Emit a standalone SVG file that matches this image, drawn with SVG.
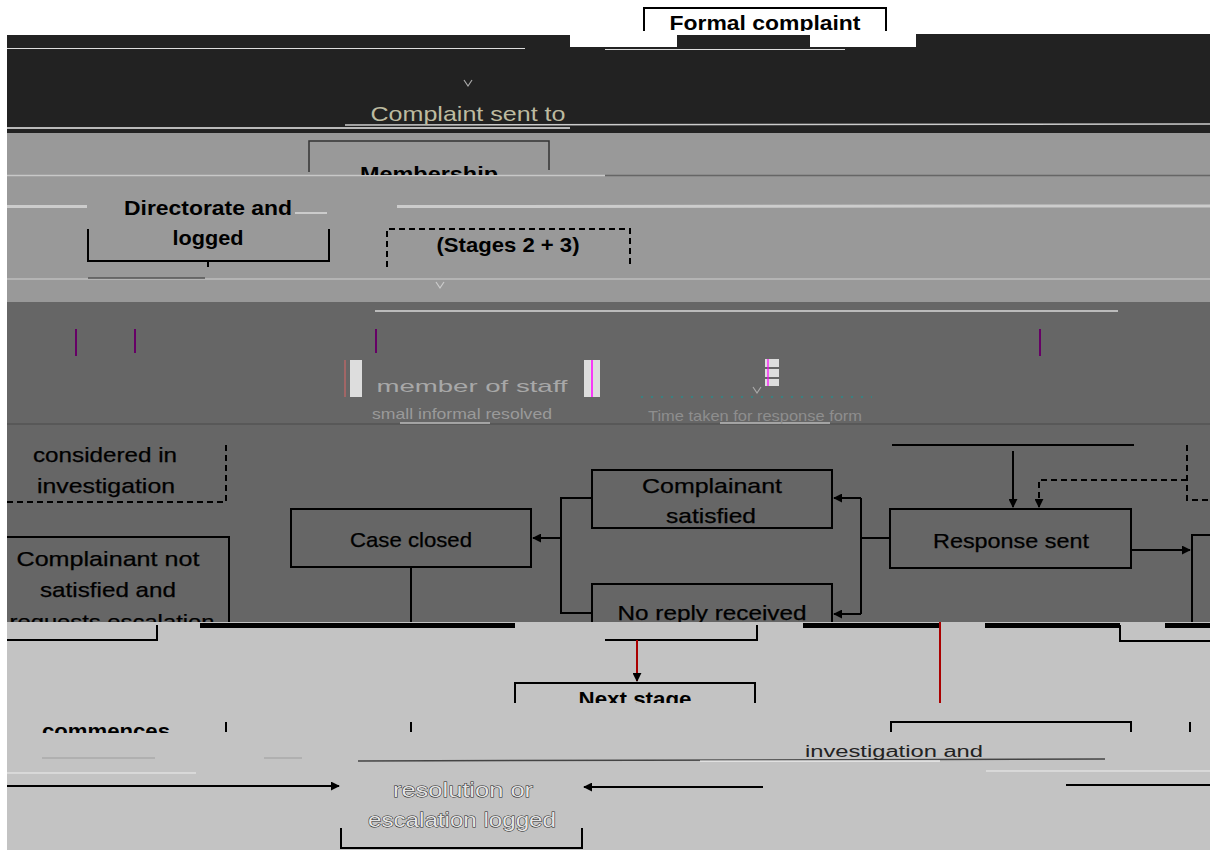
<svg xmlns="http://www.w3.org/2000/svg" width="1210" height="850" viewBox="0 0 1210 850">
<defs>
<marker id="ah" viewBox="0 0 10 10" refX="9" refY="5" markerWidth="9" markerHeight="9" markerUnits="userSpaceOnUse" orient="auto"><path d="M0,0 L10,5 L0,10 z" fill="#000"/></marker>
<clipPath id="c31"><rect x="0" y="0" width="1210" height="31"/></clipPath>
<clipPath id="c175"><rect x="0" y="133" width="1210" height="42"/></clipPath>
<clipPath id="c622"><rect x="7" y="302" width="1203" height="320"/></clipPath>
<clipPath id="c703"><rect x="0" y="622" width="1210" height="81"/></clipPath>
<clipPath id="c733"><rect x="0" y="700" width="1210" height="33"/></clipPath>
</defs>
<style>
.t{font-family:"Liberation Sans",Arial,sans-serif;font-size:21px;fill:#000;text-anchor:middle;stroke:#000;stroke-width:0.25}
.b{font-weight:bold;stroke:none}
.box{fill:none;stroke:#000;stroke-width:2}
.dash{fill:none;stroke:#000;stroke-width:2;stroke-dasharray:6,4}
.con{fill:none;stroke:#000;stroke-width:2}
.dcon{fill:none;stroke:#000;stroke-width:2;stroke-dasharray:6,4}
.faint{font-family:"Liberation Sans",Arial,sans-serif;text-anchor:middle}
.ghost{font-family:"Liberation Sans",Arial,sans-serif;font-size:21px;text-anchor:middle;fill:#e4e4e4;stroke:#1a1a1a;stroke-width:0.9;paint-order:stroke}
</style>
<!-- background bands -->
<rect x="0" y="0" width="1210" height="850" fill="#fff"/>
<rect x="7" y="35" width="563" height="13" fill="#222"/>
<rect x="677" y="35" width="133" height="12" fill="#222"/>
<rect x="916" y="34" width="294" height="13" fill="#222"/>
<rect x="7" y="47" width="1203" height="86" fill="#222"/>
<line x1="7" y1="48.5" x2="525" y2="48.5" stroke="#ddd" stroke-width="1"/>
<line x1="605" y1="49.5" x2="845" y2="49.5" stroke="#ddd" stroke-width="1"/>
<line x1="345" y1="125" x2="1210" y2="124" stroke="#ccc" stroke-width="1.5"/>
<line x1="7" y1="128" x2="570" y2="128" stroke="#eee" stroke-width="1.5"/>
<rect x="7" y="133" width="1203" height="169" fill="#999"/>
<line x1="7" y1="175.5" x2="605" y2="175.5" stroke="#c8c8c8" stroke-width="1.5"/>
<line x1="605" y1="175.5" x2="1210" y2="175.5" stroke="#666" stroke-width="1.5"/>
<line x1="7" y1="206.5" x2="87" y2="206.5" stroke="#ccc" stroke-width="3"/>
<line x1="397" y1="206.5" x2="1210" y2="206" stroke="#ccc" stroke-width="3"/>
<line x1="7" y1="279" x2="1210" y2="279" stroke="#b4b4b4" stroke-width="2"/>
<line x1="88" y1="278" x2="205" y2="278" stroke="#555" stroke-width="1.5"/>
<rect x="7" y="302" width="1203" height="320" fill="#666"/>
<line x1="375" y1="311" x2="1118" y2="311" stroke="#bbb" stroke-width="2"/>
<line x1="7" y1="424" x2="1210" y2="424" stroke="#555" stroke-width="1.5"/>
<line x1="400" y1="423" x2="490" y2="423" stroke="#bbb" stroke-width="1.5"/>
<line x1="720" y1="423" x2="830" y2="423" stroke="#bbb" stroke-width="1.5"/>
<rect x="7" y="622" width="1203" height="228" fill="#c3c3c3"/>
<rect x="200" y="623" width="315" height="5" fill="#000"/>
<rect x="803" y="623" width="137" height="5" fill="#000"/>
<rect x="985" y="623" width="135" height="5" fill="#000"/>
<rect x="1165" y="623" width="45" height="5" fill="#000"/>
<line x1="42" y1="758" x2="155" y2="758" stroke="#aaa" stroke-width="1.5"/>
<line x1="264" y1="758" x2="302" y2="758" stroke="#aaa" stroke-width="1.5"/>
<line x1="358" y1="761" x2="1105" y2="759" stroke="#444" stroke-width="1.5"/>
<line x1="700" y1="761" x2="940" y2="761" stroke="#fff" stroke-width="1.2"/>
<line x1="7" y1="773" x2="196" y2="773" stroke="#eee" stroke-width="1"/>
<line x1="986" y1="771" x2="1210" y2="771" stroke="#eee" stroke-width="1"/>

<!-- nodes -->
<g id="n-formal">
<path class="box" d="M644,31 V8 H886 V31"/>
<text class="t b" x="765" y="30" font-size="22" textLength="191" lengthAdjust="spacingAndGlyphs" clip-path="url(#c31)">Formal complaint</text>
</g>
<g id="n-membership">
<text class="faint" x="468" y="121" font-size="21" fill="#bdbba0" textLength="195" lengthAdjust="spacingAndGlyphs">Complaint sent to</text>
<path d="M309,172 V141 H549 V170" fill="none" stroke="#333" stroke-width="1.5"/>
<text class="t b" x="429" y="181" textLength="138" lengthAdjust="spacingAndGlyphs" clip-path="url(#c175)">Membership</text>
<text class="t b" x="208" y="215" textLength="168" lengthAdjust="spacingAndGlyphs">Directorate and</text>
<line x1="295" y1="213" x2="327" y2="213" stroke="#ddd" stroke-width="1.5"/>
<text class="t b" x="208" y="245" textLength="71" lengthAdjust="spacingAndGlyphs">logged</text>
<path class="box" d="M88,229 V261 H329 V229"/>
</g>
<g id="n-stages">
<path class="dash" d="M387,267 V229 H630 V267"/>
<text class="t b" x="508" y="252" textLength="143" lengthAdjust="spacingAndGlyphs">(Stages 2 + 3)</text>
</g>
<g id="n-staff">
<line x1="76" y1="329" x2="76" y2="356" stroke="#606" stroke-width="2"/>
<line x1="135" y1="329" x2="135" y2="353" stroke="#606" stroke-width="2"/>
<line x1="376" y1="329" x2="376" y2="353" stroke="#606" stroke-width="2"/>
<line x1="345" y1="360" x2="345" y2="397" stroke="#d66" stroke-width="1"/>
<rect x="350" y="360" width="12" height="37" fill="#ddd"/>
<rect x="584" y="360" width="16" height="37" fill="#ddd"/>
<line x1="592" y1="360" x2="592" y2="397" stroke="#f0f" stroke-width="1.5"/>
<text class="faint" x="472" y="392" font-size="17" fill="#a8a8a8" textLength="191" lengthAdjust="spacingAndGlyphs">member of staff</text>
<text class="faint" x="462" y="419" font-size="15" fill="#9a9a9a" textLength="180" lengthAdjust="spacingAndGlyphs">small informal resolved</text>
</g>
<g id="n-response-form">
<rect x="765" y="359" width="14" height="8" fill="#ddd"/>
<rect x="765" y="369" width="14" height="8" fill="#ddd"/>
<rect x="765" y="379" width="14" height="7" fill="#ddd"/>
<line x1="768" y1="359" x2="768" y2="386" stroke="#f0f" stroke-width="1.2"/>
<line x1="641" y1="397" x2="872" y2="397" stroke="#2a8a8a" stroke-width="1.5" stroke-dasharray="2,8"/>
<line x1="1040" y1="329" x2="1040" y2="356" stroke="#606" stroke-width="2"/>
<text class="faint" x="755" y="421" font-size="15" fill="#8e8e8e" textLength="214" lengthAdjust="spacingAndGlyphs">Time taken for response form</text>
</g>
<g id="n-considered">
<path class="dash" d="M7,502 H226 V445"/>
<text class="t" x="105" y="462" textLength="144" lengthAdjust="spacingAndGlyphs">considered in</text>
<text class="t" x="106" y="493" textLength="138" lengthAdjust="spacingAndGlyphs">investigation</text>
</g>
<g id="n-notsatisfied">
<path class="box" d="M7,537 H229 V622"/>
<text class="t" x="108" y="566" textLength="183" lengthAdjust="spacingAndGlyphs">Complainant not</text>
<text class="t" x="108" y="597" textLength="136" lengthAdjust="spacingAndGlyphs">satisfied and</text>
<text class="t" x="112" y="629" textLength="205" lengthAdjust="spacingAndGlyphs" clip-path="url(#c622)">requests escalation</text>
<path class="box" d="M7,640 H157 V625"/>
</g>
<g id="n-closed">
<rect class="box" x="291" y="509" width="240" height="58"/>
<text class="t" x="411" y="547" textLength="122" lengthAdjust="spacingAndGlyphs">Case closed</text>
</g>
<g id="n-satisfied">
<rect class="box" x="592" y="470" width="240" height="58"/>
<text class="t" x="712" y="493" textLength="140" lengthAdjust="spacingAndGlyphs">Complainant</text>
<text class="t" x="711" y="523" textLength="90" lengthAdjust="spacingAndGlyphs">satisfied</text>
</g>
<g id="n-noreply">
<path class="box" d="M592,622 V584 H832 V622"/>
<text class="t" x="712" y="620" textLength="189" lengthAdjust="spacingAndGlyphs" clip-path="url(#c622)">No reply received</text>
<path class="box" d="M605,640 H757 V625"/>
</g>
<g id="n-response">
<rect class="box" x="890" y="509" width="241" height="59"/>
<text class="t" x="1011" y="548" textLength="156" lengthAdjust="spacingAndGlyphs">Response sent</text>
<line class="con" x1="892" y1="445" x2="1134" y2="445"/>
</g>
<g id="n-right">
<path class="box" d="M1192,622 V535 H1210"/>
<path class="box" d="M1120,625 V641 H1210"/>
</g>
<g id="n-next">
<path class="box" d="M515,703 V683 H755 V703"/>
<text class="t b" x="635" y="706" textLength="113" lengthAdjust="spacingAndGlyphs" clip-path="url(#c703)">Next stage</text>
</g>
<g id="n-commences">
<text class="t b" x="106" y="738" textLength="128" lengthAdjust="spacingAndGlyphs" clip-path="url(#c733)">commences</text>
<line x1="226" y1="722" x2="226" y2="732" stroke="#000" stroke-width="2"/>
<line x1="411" y1="722" x2="411" y2="732" stroke="#000" stroke-width="2"/>
</g>
<g id="n-investigation">
<path class="box" d="M891,732 V722 H1131 V732"/>
<line x1="1190" y1="722" x2="1190" y2="732" stroke="#000" stroke-width="2"/>
<text class="faint" x="894" y="757" font-size="16" fill="#222" textLength="178" lengthAdjust="spacingAndGlyphs">investigation and</text>
</g>
<g id="n-resolution">
<text class="ghost" x="463" y="797" textLength="140" lengthAdjust="spacingAndGlyphs">resolution or</text>
<text class="ghost" x="462" y="827" textLength="188" lengthAdjust="spacingAndGlyphs">escalation logged</text>
<path class="box" d="M341,828 V848 H582 V828"/>
</g>

<!-- connectors -->
<g id="connectors">
<path d="M464,80 L468,86 L472,80" fill="none" stroke="#aaa" stroke-width="1.2"/>
<path d="M436,282 L440,288 L444,282" fill="none" stroke="#ccc" stroke-width="1.2"/>
<path d="M753,387 L757,393 L761,387" fill="none" stroke="#aaa" stroke-width="1.2"/>
<line class="con" x1="208" y1="261" x2="208" y2="267"/>
<path class="con" d="M561,538 H533" marker-end="url(#ah)"/>
<path class="con" d="M592,498 H561 V613 H592"/>
<path class="con" d="M890,538 H861"/>
<path class="con" d="M861,498 V614"/>
<path class="con" d="M861,498 H834" marker-end="url(#ah)"/>
<path class="con" d="M861,614 H834" marker-end="url(#ah)"/>
<path class="con" d="M1013,451 V507" marker-end="url(#ah)"/>
<path class="dcon" d="M1187,445 V500 H1210"/>
<path class="dcon" d="M1187,480 H1039 V507" marker-end="url(#ah)"/>
<path class="con" d="M1131,550 H1190" marker-end="url(#ah)"/>
<path class="con" d="M411,567 V622"/>
<path d="M637,640 V681" fill="none" stroke="#a00" stroke-width="2" marker-end="url(#ah)"/>
<path d="M940,622 V703" fill="none" stroke="#a00" stroke-width="2"/>
<path class="con" d="M7,786 H339" marker-end="url(#ah)"/>
<path class="con" d="M763,787 H584" marker-end="url(#ah)"/>
<path class="con" d="M1066,785 H1210"/>
</g>
</svg>
